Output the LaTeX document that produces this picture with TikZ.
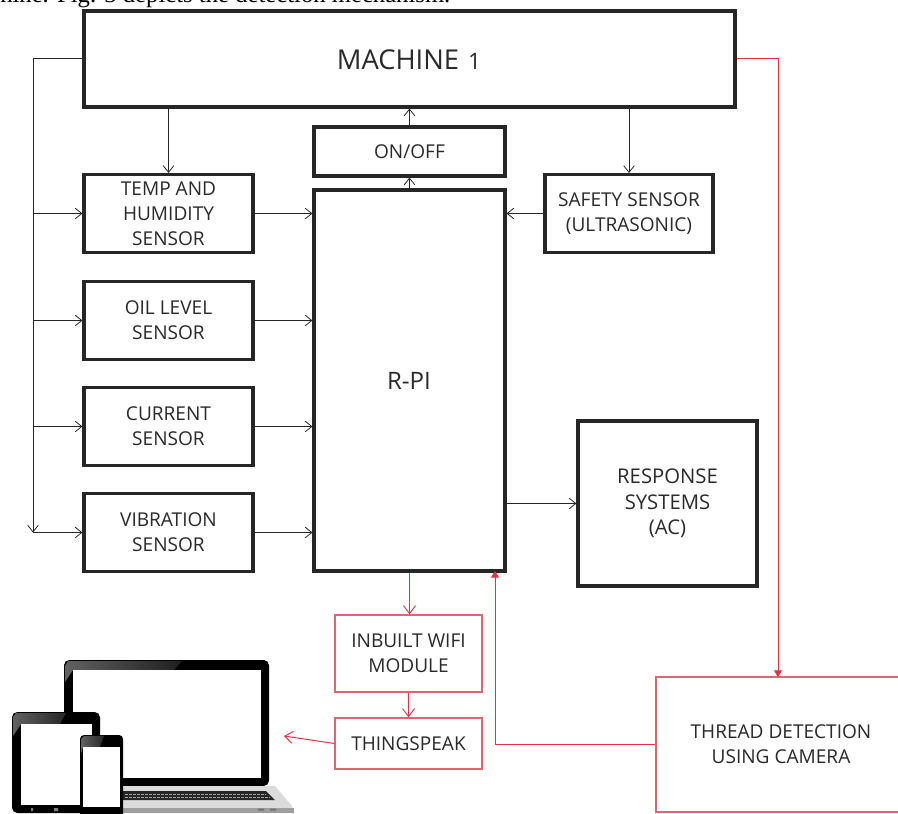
\documentclass[tikz,border=0pt]{standalone}
\usepackage{fontspec}
\setmainfont{Open Sans}
\newfontfamily\capfont{Liberation Serif}
\usetikzlibrary{arrows.meta}
\definecolor{boxline}{HTML}{262626}
\definecolor{redline}{HTML}{E2323F}
\definecolor{redbox}{HTML}{DF6570}
\definecolor{labelc}{HTML}{2A2A2A}
\tikzset{
  nudge/.style={execute at begin node=\vspace*{2.2pt}},
  blackbox/.style={draw=boxline,line width=2.3pt,fill=white,text=labelc,align=center,inner sep=0pt,nudge,font=\fontsize{14.3}{18.75}\selectfont},
  redbx/.style={draw=redbox,line width=.9pt,fill=white,text=labelc,align=center,inner sep=0pt,nudge,font=\fontsize{14.3}{19}\selectfont},
  conn/.style={draw=boxline,line width=.75pt,-{Straight Barb[length=5pt,width=8pt,line width=.6pt]}},
  plainconn/.style={draw=boxline,line width=.75pt},
  redconn/.style={draw=redline,line width=.75pt,-{Straight Barb[length=6pt,width=9pt,line width=.7pt]}},
  redfill/.style={draw=redline,line width=.75pt,-{Triangle[length=5pt,width=6pt]}},
  sz/.style n args={2}{minimum width=#1*.75pt,minimum height=#2*.75pt},
}
\begin{document}
\begin{tikzpicture}[x=.75pt,y=-.75pt]
\useasboundingbox (0,0) rectangle (898,813);
\begin{scope}
\clip (0,0) rectangle (898,813);
\node[anchor=base west,inner sep=0pt,font=\capfont\fontsize{18.5}{20}\selectfont] (caption) at (0,3) {hine. Fig. 3 depicts the detection mechanism.};

% devices
\fill[black,rounded corners=4pt] (64,660) rectangle (269,786);
\shade[left color=black!62,right color=black!88] (68,661) -- (182,661) -- (174,670) -- (73,670) -- (65,682) -- (65,666) -- cycle;
\fill[white] (73,670) rectangle (261,778);
\fill[black!14] (123,786) -- (275,786) -- (292,806) -- (294,813) -- (123,813) -- cycle;
\fill[black!38] (123,808) -- (294,808) -- (294,813) -- (123,813) -- cycle;
\fill[black!85] (123,791) -- (266,791) -- (275,800) -- (123,800) -- cycle;
\draw[black!35,line width=.5pt,dash pattern=on 2pt off 1pt] (125,794) -- (266,794) (125,797) -- (270,797);
\fill[black!55] (258,808.5) rectangle (264,810.5) (270,808.5) rectangle (276,810.5);
\fill[black,rounded corners=4pt] (12,712) rectangle (100,813);
\shade[left color=black!62,right color=black!85] (16,713) -- (66,713) -- (60,724) -- (21,724) -- (13,736) -- (13,717) -- cycle;
\fill[white] (21,724) rectangle (92,805);
\fill[black!50] (31,808) rectangle (33,811) (54,808) rectangle (58,811);
\fill[black,rounded corners=3pt] (80,735) rectangle (123,830);
\shade[left color=black!62,right color=black!85] (84,736) -- (104,736) -- (100,747) -- (83,747) -- (81,754) -- (81,739) -- cycle;
\fill[white] (83,747) rectangle (120,807);

\node[blackbox,sz={651}{96}] (machine) at (409.5,59) {};
\node[font=\fontsize{20.5}{24}\selectfont,text=labelc] (machinelabel) at (409,60) {MACHINE\hspace{1.5pt} {\fontsize{17}{24}\selectfont 1}};
\node[blackbox,sz={191}{49}] (onoff) at (409.5,151.5) {ON/OFF};
\node[blackbox,sz={191}{381}] (rpi) at (409.5,380.5) {};
\node[font=\fontsize{18}{22}\selectfont,text=labelc] (rpilabel) at (409,381) {R-PI};
\node[blackbox,sz={169}{78}] (temp) at (168.5,213.5) {TEMP AND\\HUMIDITY\\SENSOR};
\node[blackbox,sz={169}{78}] (oil) at (168.5,320.5) {OIL LEVEL\\SENSOR};
\node[blackbox,sz={169}{78}] (current) at (168.5,426.5) {CURRENT\\SENSOR};
\node[blackbox,sz={169}{78}] (vib) at (168.5,532.5) {VIBRATION\\SENSOR};
\node[blackbox,sz={168}{78}] (safety) at (629,213.5) {SAFETY SENSOR\\(ULTRASONIC)};
\node[blackbox,sz={179}{165},font=\fontsize{15.2}{19}\selectfont] (resp) at (667.5,503.5) {RESPONSE\\SYSTEMS\\(AC)};
\node[redbx,sz={147}{77}] (wifi) at (408.5,653.5) {INBUILT WIFI\\MODULE};
\node[redbx,sz={147}{51}] (thing) at (408.5,743.5) {THINGSPEAK};
\node[redbx,sz={250}{135}] (thread) at (781,744.5) {THREAD DETECTION\\USING CAMERA};

\coordinate (bustop) at (33,59);
\coordinate (busend) at (33,532.5);
\coordinate (devices) at (284,736);
\coordinate (redcorner) at (778,59);
\coordinate (threadtop) at (778,677);
\coordinate (rpientry) at (495,571);
\coordinate (redturn) at (495,744);

\draw[plainconn] (machine.west) -- (bustop);
\draw[conn] (bustop) -- (busend);
\draw[conn] (temp.west -| bustop) -- (temp.west);
\draw[conn] (oil.west -| bustop) -- (oil.west);
\draw[conn] (current.west -| bustop) -- (current.west);
\draw[conn] (vib.west -| bustop) -- (vib.west);
\draw[conn] (temp.north |- machine.south) -- (temp.north);
\draw[conn] (safety.north |- machine.south) -- (safety.north);
\draw[conn] (onoff.north) -- (machine.south);
\draw[conn] (rpi.north) -- (onoff.south);
\draw[conn] (temp.east) -- (temp.east -| rpi.west);
\draw[conn] (oil.east) -- (oil.east -| rpi.west);
\draw[conn] (current.east) -- (current.east -| rpi.west);
\draw[conn] (vib.east) -- (vib.east -| rpi.west);
\draw[conn] (safety.west) -- (safety.west -| rpi.east);
\draw[conn] (resp.west -| rpi.east) -- (resp.west);
\draw[redconn] (rpi.south) -- (wifi.north -| rpi.south);
\draw[redconn] (wifi.south) -- (thing.north);
\draw[redconn] (thing.west) -- (devices);
\draw[redfill] (thread.west |- redturn) -- (redturn) -- (rpientry);
\draw[redfill] (machine.east) -- (redcorner) -- (threadtop);
\end{scope}
\end{tikzpicture}
\end{document}
